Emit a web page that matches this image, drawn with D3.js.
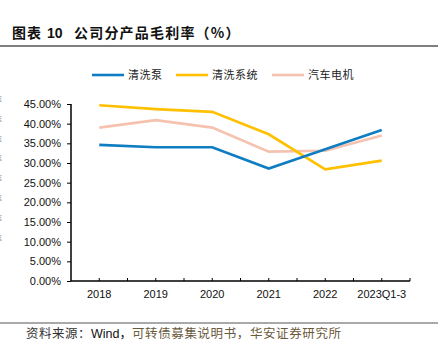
<html>
<head>
<meta charset="UTF-8">
<title>公司分产品毛利率</title>
<script src="https://cdn.jsdelivr.net/npm/d3@7/dist/d3.min.js"></script>
<style>
  body { margin:0; background:#fff; }
  text { font-family: "Liberation Sans", Arial, sans-serif; }
  .cjk { font-family: "Noto Sans CJK SC", sans-serif; }
</style>
</head>
<body>
<svg id="chart" width="441" height="344"></svg>
<script>
// 数据
var years = ["2018", "2019", "2020", "2021", "2022", "2023Q1-3"];
var pump = [34.6, 34.0, 34.0, 28.6, 33.5, 38.4];     // 清洗泵
var system = [44.7, 43.7, 43.0, 37.3, 28.4, 30.6];   // 清洗系统
var motor = [39.0, 40.9, 39.0, 32.9, 33.1, 37.0];    // 汽车电机
var seriesNames = ["清洗泵", "清洗系统", "汽车电机"];
var yTicks = [0, 5, 10, 15, 20, 25, 30, 35, 40, 45];

var colors = ["#0F7DC2", "#FFC000", "#F5C2B0"];
var allSeries = [pump, system, motor];

var svg = d3.select("#chart");

// 标题
var title = svg.append("text").attr("y", 38).attr("font-size", 14)
    .attr("font-weight", "bold").attr("fill", "#111");
title.append("tspan").attr("class", "cjk").attr("x", 12).attr("letter-spacing", 1).text("图表");
title.append("tspan").attr("x", 47).text("10");
title.append("tspan").attr("class", "cjk").attr("x", 74).attr("letter-spacing", 1.2)
    .text("公司分产品毛利率（%）");
svg.append("line").attr("x1", 0).attr("x2", 438).attr("y1", 46).attr("y2", 46)
    .attr("stroke", "#555").attr("stroke-width", 1.5);

// 左边被截断的字
svg.append("g").selectAll("text").data(yTicks.slice(2))
    .enter().append("text").attr("class", "cjk")
    .attr("x", -6).attr("y", function(d, i){ return 103 + i * 19.8; })
    .attr("font-size", 8).attr("fill", "#888").text("率");

var x = d3.scaleBand().domain(years).range([71, 410]);
var y = d3.scaleLinear().domain([0, 45]).range([281, 104]);

// y 轴
var yAxis = d3.axisLeft(y).tickValues(yTicks).tickSize(4).tickPadding(6)
    .tickFormat(function(d){ return d.toFixed(2) + "%"; });
var gy = svg.append("g").attr("transform", "translate(71,0)").call(yAxis);
gy.select(".domain").attr("stroke", "#000").attr("stroke-width", 1.5).attr("d", "M0,104V281");
gy.selectAll(".tick line").attr("stroke", "#000");
gy.selectAll(".tick text").attr("font-size", 11).attr("fill", "#111")
    .attr("font-family", "Liberation Sans, Arial, sans-serif");

// x 轴
var bw = x.bandwidth();
var xTickPos = [];
years.forEach(function(d){ xTickPos.push(x(d) + bw / 2); xTickPos.push(x(d) + bw); });
svg.append("line").attr("x1", 71).attr("x2", 410).attr("y1", 281).attr("y2", 281)
    .attr("stroke", "#000").attr("stroke-width", 1.5);
svg.append("g").selectAll("line").data(xTickPos).enter().append("line")
    .attr("x1", function(d){ return d; }).attr("x2", function(d){ return d; })
    .attr("y1", 281).attr("y2", 278).attr("stroke", "#000");
svg.append("g").selectAll("text").data(years).enter().append("text")
    .attr("x", function(d){ return x(d) + bw / 2; }).attr("y", 298)
    .attr("text-anchor", "middle").attr("font-size", 11).attr("fill", "#111")
    .text(function(d){ return d; });

// 折线
var line = d3.line()
    .x(function(d, i){ return x(years[i]) + bw / 2; })
    .y(function(d){ return y(d); });
[2, 1, 0].forEach(function(k){
    svg.append("path").datum(allSeries[k])
        .attr("fill", "none").attr("stroke", colors[k]).attr("stroke-width", 2.6)
        .attr("d", line);
});

// 图例
var legendX = [92, 176, 272];
var lg = svg.append("g").selectAll("g").data(seriesNames).enter().append("g")
    .attr("transform", function(d, i){ return "translate(" + legendX[i] + ",75)"; });
lg.append("line").attr("x1", 0).attr("x2", 32).attr("y1", 0).attr("y2", 0)
    .attr("stroke", function(d, i){ return colors[i]; }).attr("stroke-width", 2.6);
lg.append("text").attr("class", "cjk").attr("x", 36).attr("y", 4)
    .attr("font-size", 11).attr("letter-spacing", 0.5).attr("fill", "#222")
    .text(function(d){ return d; });

// 资料来源
svg.append("line").attr("x1", 0).attr("x2", 438).attr("y1", 323).attr("y2", 323)
    .attr("stroke", "#555").attr("stroke-width", 1.2);
var src = svg.append("text").attr("x", 26).attr("y", 338).attr("font-size", 12.5);
src.append("tspan").attr("class", "cjk").attr("fill", "#333").attr("letter-spacing", 0.5).text("资料来源：");
src.append("tspan").attr("fill", "#111").text("Wind");
src.append("tspan").attr("class", "cjk").attr("fill", "#111").text("，");
src.append("tspan").attr("class", "cjk").attr("fill", "#6b5a3c").attr("letter-spacing", 0.6)
    .text("可转债募集说明书，华安证券研究所");
</script>
</body>
</html>
